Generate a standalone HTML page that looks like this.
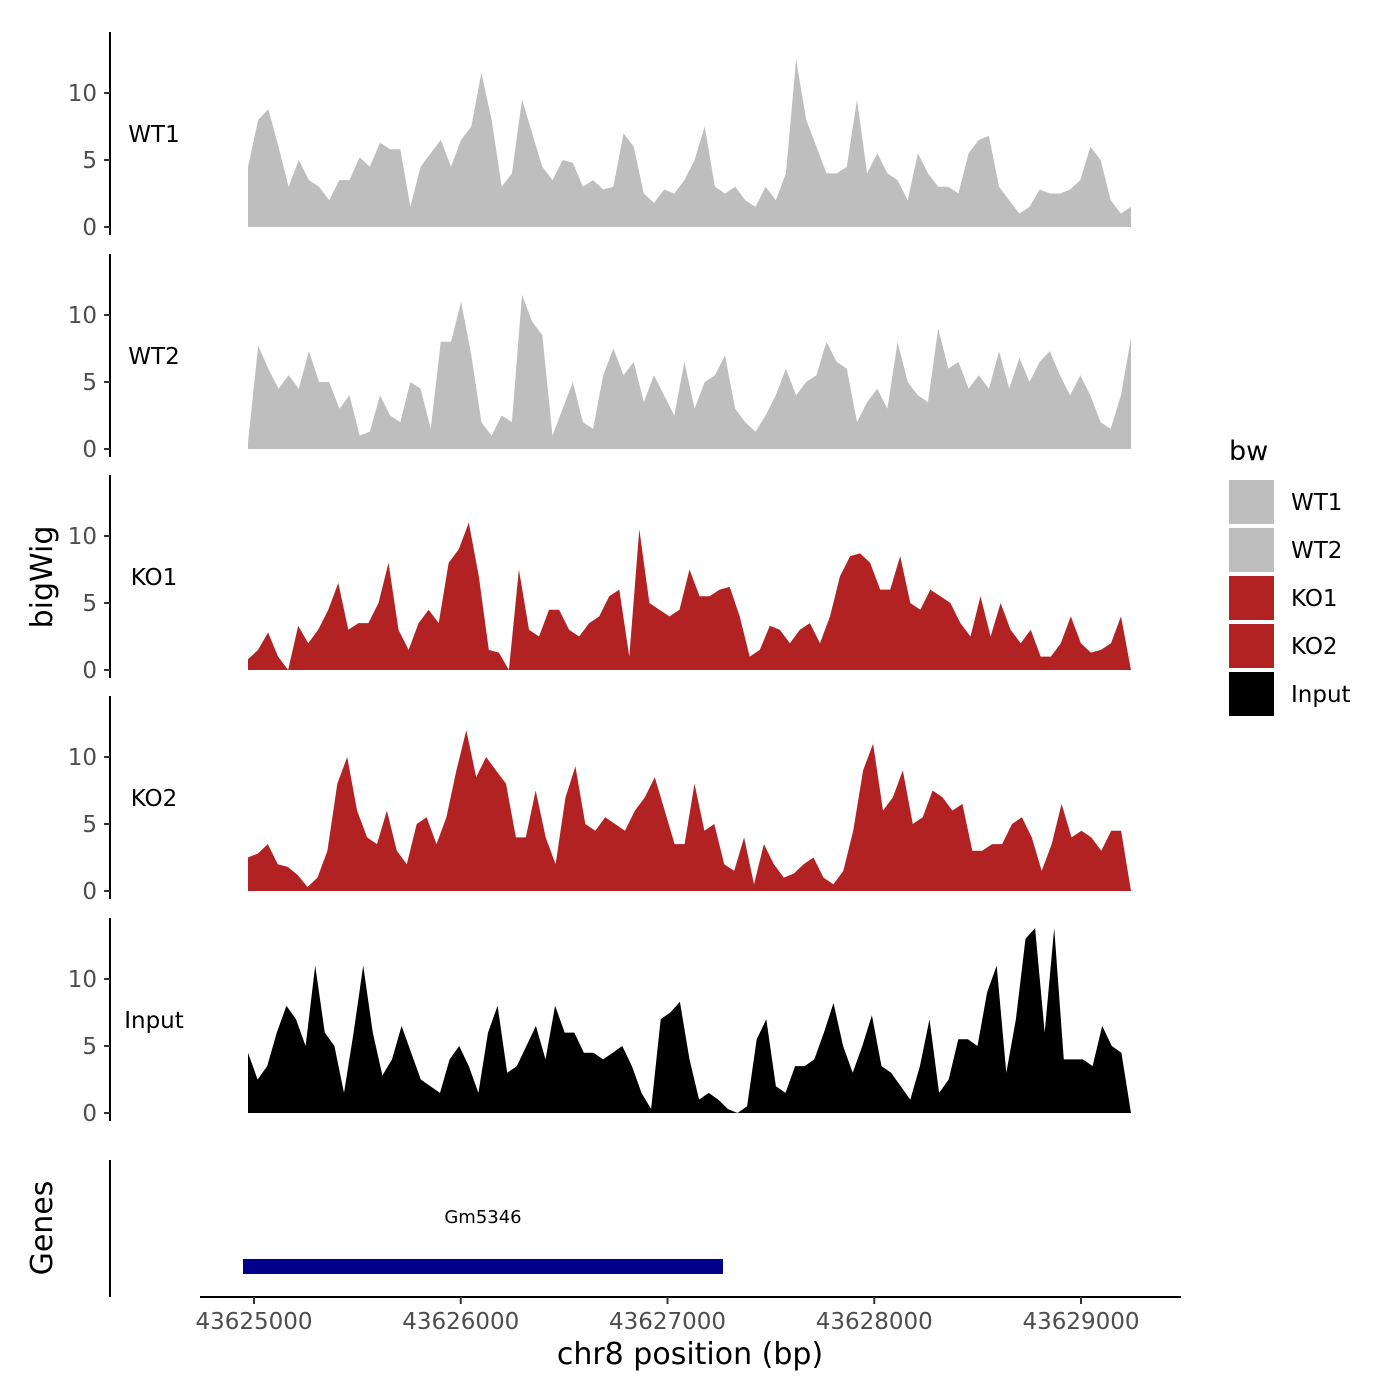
<!DOCTYPE html>
<html><head><meta charset="utf-8"><style>
html,body{margin:0;padding:0;background:#fff;}
svg{display:block;font-family:"DejaVu Sans","Liberation Sans",sans-serif;}
</style></head><body>
<svg id="chart" width="1400" height="1400" viewBox="0 0 1400 1400" xmlns="http://www.w3.org/2000/svg">
<rect width="1400" height="1400" fill="#fff"/>
<g id="tracks"></g>
<g id="genes">
  <line x1="110" y1="1160" x2="110" y2="1297" stroke="#000" stroke-width="2"/>
  <rect x="243" y="1259" width="480" height="15" fill="#00008B"/>
  <text x="483" y="1223" font-size="18" text-anchor="middle">Gm5346</text>
  <text transform="translate(52,1228) rotate(-90)" font-size="30" text-anchor="middle">Genes</text>
</g>
<g id="xaxis"></g>
<text transform="translate(52,577) rotate(-90)" font-size="30" text-anchor="middle">bigWig</text>
<text x="690" y="1364" font-size="30" text-anchor="middle">chr8 position (bp)</text>
<g id="legend"></g>
</svg>
<script>
const sampleNames = ["WT1","WT2","KO1","KO2","Input"];
const sampleColors = ["#BEBEBE","#BEBEBE","#B22222","#B22222","#000000"];
const xTicks = [43625000,43626000,43627000,43628000,43629000];
const yTicks = [0,5,10];
const startBp = 43624971, endBp = 43629242;
const wt1 = [4.5,8,8.8,6,3,5,3.5,3,2,3.5,3.5,5.2,4.5,6.3,5.8,5.8,1.5,4.5,5.5,6.5,4.5,6.5,7.5,11.5,8,3,4,9.5,7,4.5,3.5,5,4.8,3,3.5,2.8,3,7,6,2.5,1.8,2.8,2.5,3.5,5,7.5,3,2.5,3,2,1.5,3,2,4,12.5,8,6,4,4,4.5,9.5,4,5.5,4,3.5,2,5.5,4,3,3,2.5,5.5,6.5,6.8,3,2,1,1.5,2.8,2.5,2.5,2.8,3.5,6,5,2,1,1.5];
const wt2 = [0.5,7.7,6,4.5,5.5,4.5,7.3,5,5,3,4,1,1.3,4,2.5,2,5,4.5,1.5,8,8,11,7,2,1,2.5,2,11.5,9.5,8.5,1,3,5,2,1.5,5.5,7.5,5.5,6.5,3.5,5.5,4,2.5,6.5,3,5,5.5,7,3,2,1.3,2.5,4,6,4,5,5.5,8,6.5,6,2,3.5,4.5,3,8,5,4,3.5,9,6,6.5,4.5,5.5,4.5,7.3,4.5,6.8,5,6.5,7.3,5.5,4,5.5,4,2,1.5,4,8.3];
const ko1 = [0.8,1.5,2.8,1,0,3.3,2,3,4.5,6.5,3,3.5,3.5,5,8,3,1.5,3.5,4.5,3.5,8,9,11,7,1.5,1.3,0,7.5,3,2.5,4.5,4.5,3,2.5,3.5,4,5.5,6,1,10.5,5,4.5,4,4.5,7.5,5.5,5.5,6,6.2,4,1,1.5,3.3,3,2,3,3.5,2,4,7,8.5,8.7,8,6,6,8.5,5,4.5,6,5.5,5,3.5,2.5,5.5,2.5,5,3,2,3,1,1,2,4,2,1.3,1.5,2,4,0];
const ko2 = [2.5,2.8,3.5,2,1.8,1.2,0.3,1,3,8,10,6,4,3.5,6,3,2,5,5.5,3.5,5.5,9,12,8.5,10,9,8,4,4,7.5,4,2,7,9.3,5,4.5,5.5,5,4.5,6,7,8.5,6,3.5,3.5,8,4.5,5,2,1.5,4,0.5,3.5,2,1,1.3,2,2.5,1,0.5,1.5,4.5,9,11,6,7,9,5,5.5,7.5,7,6,6.5,3,3,3.5,3.5,5,5.5,4,1.5,3.5,6.5,4,4.5,4,3,4.5,4.5,0];
const input = [4.5,2.5,3.5,6,8,7,5,11,6,5,1.5,6,11,6,2.8,4,6.5,4.5,2.5,2,1.5,4,5,3.5,1.5,6,8,3,3.5,5,6.5,4,8,6,6,4.5,4.5,4,4.5,5,3.5,1.5,0.3,7,7.5,8.3,4,1,1.5,1,0.3,0,0.5,5.5,7,2,1.5,3.5,3.5,4,6,8.2,5,3,5,7.3,3.5,3,2,1,3.5,7,1.5,2.5,5.5,5.5,5,9,11,3,7,13,13.8,6,13.8,4,4,4,3.5,6.5,5,4.5,0];
const seriesValues = [wt1,wt2,ko1,ko2,input];

const NS="http://www.w3.org/2000/svg";
function el(tag,attrs,parent){const e=document.createElementNS(NS,tag);for(const k in attrs)e.setAttribute(k,attrs[k]);parent.appendChild(e);return e;}
const xScale = bp => 254 + (bp-43625000)*0.20675;
const baselines = [227,449,670,891,1113];
const pxPerUnit = 13.4;
const tracks = document.getElementById('tracks');
sampleNames.forEach((name,si)=>{
  const b = baselines[si];
  const yScale = v => b - v*pxPerUnit;
  const g = el('g',{},tracks);
  
  
  const vals = seriesValues[si];
  const n = vals.length;
  let d = 'M'+xScale(startBp).toFixed(1)+','+b;
  vals.forEach((v,i)=>{const bp=startBp+i*(endBp-startBp)/(n-1);d+=' L'+xScale(bp).toFixed(1)+','+yScale(v).toFixed(1);});
  d += ' L'+xScale(endBp).toFixed(1)+','+b+' Z';
  const p = el('path',{d:d,fill:sampleColors[si]},g);
  
  
  const ax = el('line',{x1:110,y1:b-195,x2:110,y2:b+8,stroke:'#000','stroke-width':2},g);
  
  
  yTicks.forEach(t=>{
    el('line',{x1:104,y1:yScale(t),x2:110,y2:yScale(t),stroke:'#333','stroke-width':2},g);
    const tl = el('text',{x:97,y:yScale(t)+8,'font-size':23,fill:'#4d4d4d','text-anchor':'end'},g);
    tl.textContent = t;
    
    
  });
  const lab = el('text',{x:154,y:b-85,'font-size':23,'text-anchor':'middle'},g);
  lab.textContent = name;
  
  
});
const xa = document.getElementById('xaxis');
el('line',{x1:200,y1:1297,x2:1181,y2:1297,stroke:'#000','stroke-width':2},xa);
xTicks.forEach(t=>{
  const x = xScale(t);
  el('line',{x1:x,y1:1297,x2:x,y2:1304,stroke:'#333','stroke-width':2},xa);
  const tl = el('text',{x:x,y:1329,'font-size':23,fill:'#4d4d4d','text-anchor':'middle'},xa);
  tl.textContent = t;
  
  
});
const lg = document.getElementById('legend');
const lt = el('text',{x:1229,y:460,'font-size':27},lg);
lt.textContent='bw';


sampleNames.forEach((name,i)=>{
  const y = 480+i*48;
  const r = el('rect',{x:1229,y:y,width:45,height:44,fill:sampleColors[i]},lg);
  
  
  const t = el('text',{x:1291,y:y+30,'font-size':23},lg);
  t.textContent = name;
  
  
});
</script>
</body></html>
